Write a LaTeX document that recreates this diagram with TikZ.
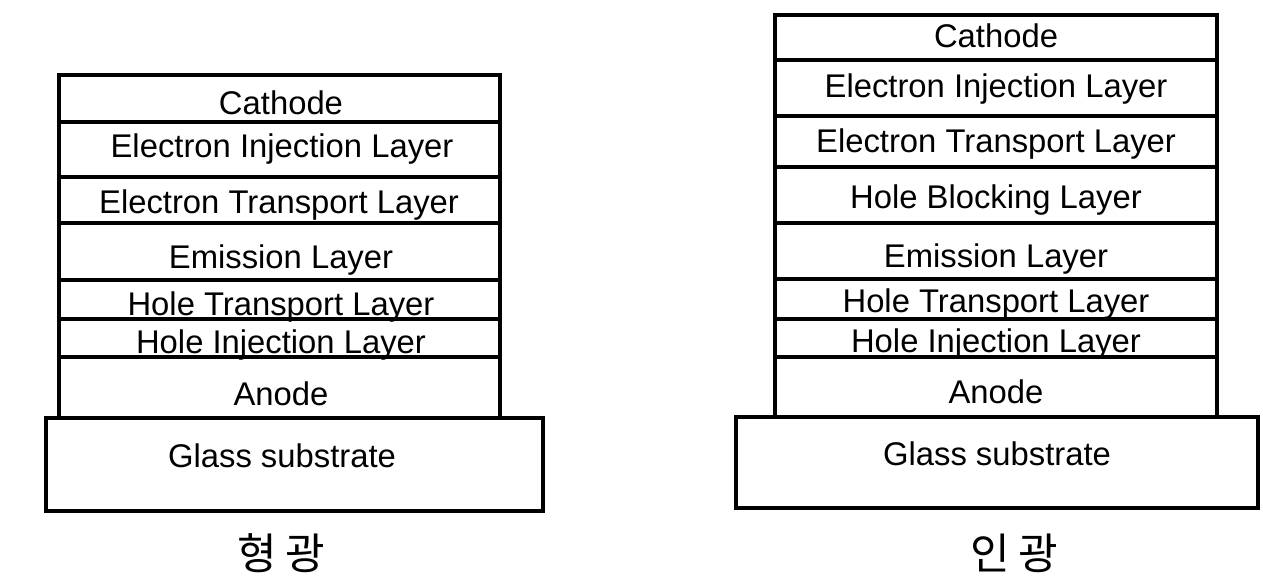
\documentclass[tikz,border=0pt]{standalone}
\usepackage{fontspec}
\setmainfont{Liberation Sans}
\newfontfamily\krfont{Noto Sans CJK KR}
\begin{document}
\begin{tikzpicture}[x=1pt,y=-1pt,
  layer/.style={draw=black,line width=3.2pt},
  lbl/.style={anchor=base,inner sep=0pt,font=\fontsize{32.8}{38}\selectfont},
  krcaption/.style={anchor=base,inner sep=0pt,font=\krfont\fontsize{43}{48}\selectfont}]
\useasboundingbox (0,0) rectangle (1263,580);
% ---------- left stack (fluorescent) ----------
\draw[layer] (46,418) rectangle (543,511);
\draw[layer] (59,75) rectangle (500,122);
\draw[layer] (59,122) rectangle (500,177);
\draw[layer] (59,177) rectangle (500,223);
\draw[layer] (59,223) rectangle (500,280);
\draw[layer] (59,280) rectangle (500,319);
\draw[layer] (59,319) rectangle (500,357);
\draw[layer] (59,357) rectangle (500,418);
\node[lbl] (lcath) at (281,115) {Cathode};
\node[lbl] (leil) at (282,158) {Electron Injection Layer};
\node[lbl] (letl) at (279,213) {Electron Transport Layer};
\node[lbl] (leml) at (281,268) {Emission Layer};
\node[lbl] (lhtl) at (281,315) {Hole Transport Layer};
\node[lbl] (lhil) at (281,353) {Hole Injection Layer};
\node[lbl] (lano) at (281,405) {Anode};
\node[lbl] (lgla) at (282,467) {Glass substrate};
\node[krcaption] (lcap) at (281,569) {형\hspace{8pt}광};
% ---------- right stack (phosphorescent) ----------
\draw[layer] (736,417) rectangle (1258,508);
\draw[layer] (775,15) rectangle (1217,60);
\draw[layer] (775,60) rectangle (1217,116);
\draw[layer] (775,116) rectangle (1217,167);
\draw[layer] (775,167) rectangle (1217,223);
\draw[layer] (775,223) rectangle (1217,279);
\draw[layer] (775,279) rectangle (1217,319);
\draw[layer] (775,319) rectangle (1217,357);
\draw[layer] (775,357) rectangle (1217,417);
\node[lbl] (rcath) at (996,48) {Cathode};
\node[lbl] (reil) at (996,98) {Electron Injection Layer};
\node[lbl] (retl) at (996,153) {Electron Transport Layer};
\node[lbl] (rhbl) at (996,208) {Hole Blocking Layer};
\node[lbl] (reml) at (996,267) {Emission Layer};
\node[lbl] (rhtl) at (996,312) {Hole Transport Layer};
\node[lbl] (rhil) at (996,352) {Hole Injection Layer};
\node[lbl] (rano) at (996,403) {Anode};
\node[lbl] (rgla) at (997,465) {Glass substrate};
\node[krcaption] (rcap) at (1014,569) {인\hspace{8pt}광};
\end{tikzpicture}
\end{document}
